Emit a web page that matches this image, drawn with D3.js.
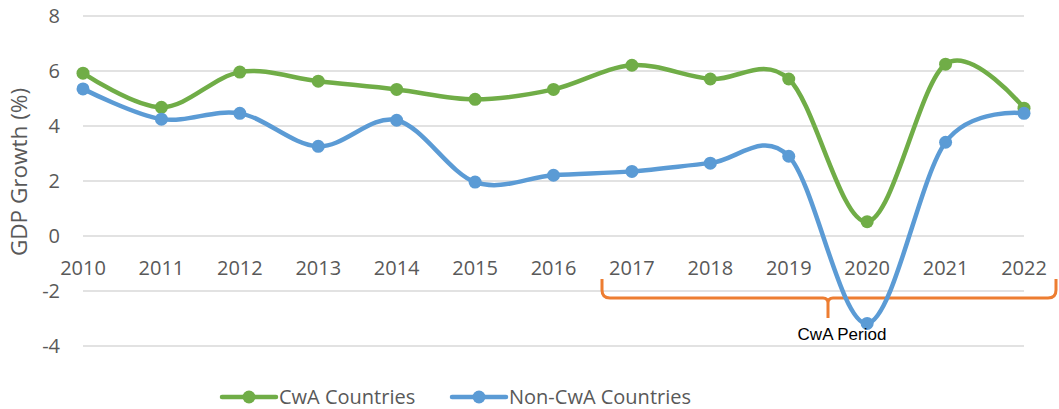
<html>
<head>
<script src="https://cdn.jsdelivr.net/npm/d3@7"></script>
<style>
body { margin: 0; background: white; }
text { font-family: "Open Sans", sans-serif; fill: #595959; }
</style>
</head>
<body>
<svg id="chart" width="1059" height="409"></svg>
<script>
var years = ["2010","2011","2012","2013","2014","2015","2016","2017","2018","2019","2020","2021","2022"];
var cwa    = [5.92, 4.68, 5.96, 5.63, 5.33, 4.97, 5.33, 6.21, 5.71, 5.71, 0.52, 6.25, 4.65];
var nonCwa = [5.35, 4.25, 4.46, 3.26, 4.21, 1.96, 2.21, 2.35, 2.65, 2.9, -3.18, 3.41, 4.46];
var yTicks = [-4, -2, 0, 2, 4, 6, 8];

var svg = d3.select("#chart");

var x = d3.scalePoint().domain(years).range([83, 1024]);
var y = d3.scaleLinear().domain([-4, 8]).range([346, 16]);

// gridlines
svg.append("g").selectAll("line")
    .data(yTicks)
    .enter().append("line")
      .attr("x1", 83).attr("x2", 1024)
      .attr("y1", function(d) { return y(d); })
      .attr("y2", function(d) { return y(d); })
      .style("stroke", "#d9d9d9").style("stroke-width", 1.5);

// y labels
svg.append("g").selectAll("text")
    .data(yTicks)
    .enter().append("text")
      .attr("x", 60)
      .attr("y", function(d) { return y(d) + 7; })
      .attr("text-anchor", "end")
      .style("font-size", "20px")
      .text(function(d) { return d; });

// x labels sit just under the zero line
svg.append("g").selectAll("text")
    .data(years)
    .enter().append("text")
      .attr("x", function(d) { return x(d); })
      .attr("y", y(0) + 39)
      .attr("text-anchor", "middle")
      .style("font-size", "20px")
      .text(function(d) { return d; });

svg.append("text")
    .attr("transform", "translate(27,172) rotate(-90)")
    .attr("text-anchor", "middle")
    .style("font-size", "22.5px")
    .text("GDP Growth (%)");

// bracket for CwA period
var bx0 = 602, bx1 = 1056, bTop = 279, bMid = 298, bx = 828, bLow = 318, rr = 8;
svg.append("path")
    .attr("d", "M" + bx0 + "," + bTop + " L" + bx0 + "," + (bMid - rr) +
               " Q" + bx0 + "," + bMid + " " + (bx0 + rr) + "," + bMid +
               " L" + (bx - 5) + "," + bMid +
               " Q" + bx + "," + bMid + " " + bx + "," + (bMid + 5) +
               " L" + bx + "," + bLow +
               " M" + bx + "," + (bMid + 5) +
               " Q" + bx + "," + bMid + " " + (bx + 5) + "," + bMid +
               " L" + (bx1 - rr) + "," + bMid +
               " Q" + bx1 + "," + bMid + " " + bx1 + "," + (bMid - rr) +
               " L" + bx1 + "," + bTop)
    .style("fill", "none")
    .style("stroke", "#ED7D31")
    .style("stroke-width", 3);

var series = [
  {name: "CwA Countries", values: cwa, color: "#70AD47"},
  {name: "Non-CwA Countries", values: nonCwa, color: "#5B9BD5"}
];

var line = d3.line()
    .x(function(d, i) { return x(years[i]); })
    .y(function(d) { return y(d); })
    .curve(d3.curveCardinal.tension(0));

series.forEach(function(s) {
  svg.append("path")
      .attr("d", line(s.values))
      .style("fill", "none")
      .style("stroke", s.color)
      .style("stroke-width", 4.5);
  svg.append("g").selectAll("circle")
      .data(s.values)
      .enter().append("circle")
        .attr("cx", function(d, i) { return x(years[i]); })
        .attr("cy", function(d) { return y(d); })
        .attr("r", 6.5)
        .style("fill", s.color);
});

svg.append("text")
    .attr("x", 842).attr("y", 340)
    .attr("text-anchor", "middle")
    .style("font-family", "'Liberation Sans', Arial, sans-serif")
    .style("font-size", "17px")
    .style("fill", "#000")
    .text("CwA Period");

// legend
var legendX = [222, 452];
series.forEach(function(s, i) {
  var g = svg.append("g").attr("transform", "translate(" + legendX[i] + ",397)");
  g.append("line").attr("x1", 0).attr("x2", 54)
      .style("stroke", s.color).style("stroke-width", 4.5).style("stroke-linecap", "round");
  g.append("circle").attr("cx", 27).attr("r", 6.5).style("fill", s.color);
  g.append("text").attr("x", 57).attr("y", 7)
      .style("font-size", "20px")
      .text(s.name);
});
</script>
</body>
</html>
